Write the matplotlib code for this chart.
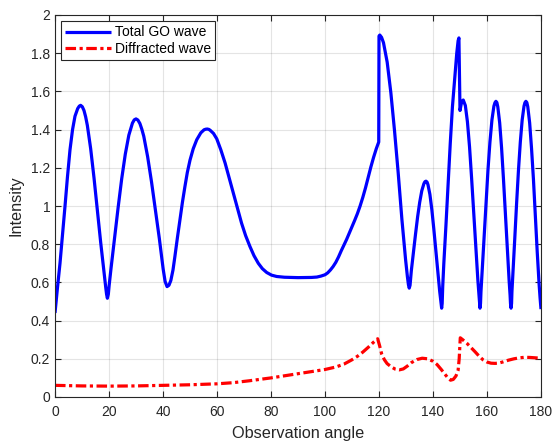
import matplotlib
matplotlib.use("Agg")
import matplotlib.pyplot as plt
from matplotlib.ticker import FuncFormatter

# ---- data ----
go_angle = [0, 0.9, 1.85, 2.8, 3.7, 4.6, 5.56, 6.5, 7.4, 8.4, 9.0, 9.5, 10.1,
            10.74, 11.35, 11.98, 13.21, 14.45, 15.69, 16.93, 18.16, 18.78, 19.1, 19.4, 19.75,
            20.06, 20.73, 22.05, 23.38, 24.70, 26.03, 27.35, 28.68, 29.35, 30, 30.7,
            31.44, 32.16, 32.88, 34.31, 35.75, 37.19, 38.63, 40.06, 40.78, 41.5,
            42.2, 42.9, 43.7, 44.4, 45.3, 46.3, 47.2, 48.1, 49, 50, 51.2, 52.5, 54, 55.2, 55.8,
            56.4, 57.0,
            57.5, 58.7, 59.9, 61.4, 63, 64.5, 66, 67.5, 69.1, 70.6, 72.2, 73.7, 75.3, 76.8,
            78.4, 80.2, 82.1, 85, 90, 95, 97,
            98.5, 100, 101, 102, 103, 104, 105, 106, 107, 108, 109, 110, 111, 112, 113, 114,
            115, 116, 117, 118, 119, 119.9,
            120.0, 120.3, 120.95, 121.66, 123.03, 124.39, 125.75, 127.11, 128.48, 129.84,
            130.52, 130.9, 131.2, 131.5,
            131.98, 132.75, 133.53, 134.3, 135.08, 135.85, 136.63, 137.0, 137.4, 137.8,
            138.13, 138.85, 139.58, 140.3, 141.03, 141.75, 142.48, 142.84, 143.0, 143.2, 143.4,
            143.6, 144.0, 144.8, 145.6, 146.4, 147.2, 148.0, 148.8, 149.3, 149.6,
            150.0, 150.6, 151.2,
            151.98, 152.75, 153.53, 154.3, 155.08, 155.85, 156.63, 157.01, 157.2, 157.4, 157.6,
            157.77, 158.14, 158.88, 159.61, 160.35, 161.09, 161.83, 162.56, 162.95, 163.3,
            163.65, 164.0, 164.7, 165.4, 166.1, 166.8, 167.5, 168.2, 168.55, 168.7, 168.9, 169.1,
            169.24, 169.59, 170.28, 170.96, 171.65, 172.34, 173.03, 173.71, 174.05, 174.4,
            174.75, 175.1, 175.8, 176.5, 177.2, 177.9, 178.6, 179.3, 179.65, 180]
go_intensity = [0.44, 0.57, 0.70, 0.85, 0.998, 1.15, 1.295, 1.40, 1.47, 1.51, 1.523, 1.527,
                1.52, 1.50, 1.467, 1.422, 1.30, 1.147, 0.979, 0.808, 0.65, 0.575, 0.538, 0.517,
                0.538, 0.585, 0.671, 0.832, 0.992, 1.142, 1.271, 1.371, 1.434, 1.451, 1.456,
                1.450, 1.432, 1.402, 1.365, 1.258, 1.126, 0.979, 0.831, 0.67, 0.605, 0.578,
                0.585, 0.61, 0.665, 0.735, 0.83, 0.928, 1.02, 1.10, 1.175, 1.24, 1.30, 1.347,
                1.383, 1.399, 1.402, 1.403, 1.401,
                1.396, 1.380, 1.352, 1.295, 1.225, 1.147, 1.068, 0.99, 0.91, 0.845, 0.788, 0.74,
                0.70, 0.672, 0.652, 0.638, 0.631, 0.627, 0.625, 0.626, 0.628,
                0.633, 0.64, 0.65, 0.665, 0.683, 0.705, 0.733, 0.765, 0.795, 0.825, 0.858, 0.89,
                0.925, 0.96, 1.0, 1.045, 1.095, 1.15, 1.205, 1.255, 1.30, 1.335,
                1.89, 1.895, 1.883, 1.855, 1.753, 1.593, 1.394, 1.173, 0.93, 0.72,
                0.63, 0.588, 0.57, 0.585,
                0.662, 0.758, 0.853, 0.943, 1.02, 1.08, 1.117, 1.127, 1.13, 1.125,
                1.112, 1.061, 0.98, 0.88, 0.769, 0.657, 0.553, 0.507, 0.484, 0.465, 0.49,
                0.578, 0.697, 0.90, 1.12, 1.33, 1.52, 1.66, 1.80, 1.865, 1.88,
                1.50, 1.545, 1.555,
                1.526, 1.441, 1.31, 1.145, 0.963, 0.779, 0.609, 0.534, 0.49, 0.465, 0.49,
                0.552, 0.643, 0.828, 1.013, 1.186, 1.335, 1.451, 1.523, 1.541, 1.548,
                1.542, 1.519, 1.435, 1.304, 1.141, 0.96, 0.777, 0.608, 0.533, 0.49, 0.465, 0.49,
                0.552, 0.643, 0.828, 1.013, 1.186, 1.335, 1.451, 1.523, 1.541, 1.548,
                1.542, 1.52, 1.435, 1.30, 1.14, 0.95, 0.76, 0.59, 0.52, 0.46]

dif_angle = [0, 10, 20, 30, 40, 50, 60, 66, 72, 80, 90, 100, 104, 107, 110, 112, 114,
             116, 118, 119.5, 120.2, 121, 122, 123, 124.5, 126, 127.5, 129, 130.5, 132,
             134, 136, 138, 140, 141.5, 143, 144.5, 145.5, 146.5, 147.5, 148.5, 149.3,
             149.7, 150.1, 151, 152.5, 154, 155.5, 157, 158.5, 160, 161.5, 163, 164.5,
             166, 168, 170, 172, 174, 176, 178, 180]
dif_intensity = [0.061, 0.058, 0.057, 0.058, 0.061, 0.064, 0.069, 0.075, 0.085, 0.100,
                 0.122, 0.144, 0.157, 0.172, 0.195, 0.213, 0.235, 0.26, 0.287, 0.305,
                 0.27, 0.225, 0.195, 0.175, 0.158, 0.146, 0.142, 0.147, 0.162, 0.18,
                 0.196, 0.203, 0.2, 0.187, 0.17, 0.145, 0.118, 0.1, 0.088, 0.092, 0.11,
                 0.14, 0.2, 0.31, 0.30, 0.282, 0.26, 0.238, 0.215, 0.195, 0.183, 0.177,
                 0.176, 0.178, 0.184, 0.193, 0.2, 0.205, 0.208, 0.207, 0.205, 0.203]

x_ticks = [0, 20, 40, 60, 80, 100, 120, 140, 160, 180]
y_ticks = [0, 0.2, 0.4, 0.6, 0.8, 1.0, 1.2, 1.4, 1.6, 1.8, 2.0]
series_labels = ["Total GO wave", "Diffracted wave"]
x_label = "Observation angle"
y_label = "Intensity"

# ---- style ----
plt.rcParams['font.family'] = ['Liberation Sans', 'DejaVu Sans']
dark = (0.15, 0.15, 0.15)

fig = plt.figure(figsize=(5.53, 4.46), dpi=100)
ax = fig.add_axes([55 / 553, 1 - 397 / 446, (541 - 55) / 553, (397 - 15) / 446])

ax.plot(go_angle, go_intensity, color=(0, 0, 1), lw=2.3, label=series_labels[0],
        solid_joinstyle='round', solid_capstyle='butt')
ax.plot(dif_angle, dif_intensity, color=(1, 0, 0), lw=2.3, label=series_labels[1],
        linestyle=(0, (3.3, 1.1, 1.0, 1.1)), dash_joinstyle='round')

ax.set_xlim(0, 180)
ax.set_ylim(0, 2)
ax.set_xticks(x_ticks)
ax.set_yticks(y_ticks)
ax.yaxis.set_major_formatter(FuncFormatter(lambda v, p: f"{v:g}"))

ax.grid(True, color=(0.15, 0.15, 0.15), alpha=0.12, lw=0.8)
ax.set_axisbelow(True)
ax.tick_params(direction='in', length=4, width=0.8, colors=dark, labelsize=10,
               top=True, right=True)
ax.tick_params(axis='x', pad=6)
ax.tick_params(axis='y', pad=3.5)
for s in ax.spines.values():
    s.set_color(dark)
    s.set_linewidth(0.8)

ax.set_xlabel(x_label, fontsize=11.7, color=dark, labelpad=5)
ax.set_ylabel(y_label, fontsize=11.7, color=dark, labelpad=5)

leg = ax.legend(loc='upper left', fontsize=10, handlelength=3.3, handletextpad=0.25,
                borderpad=0.3, labelspacing=0.2, borderaxespad=0.45, fancybox=False,
                framealpha=1, edgecolor=dark)
leg.get_frame().set_linewidth(0.8)

fig.savefig("out.png", dpi=100)
